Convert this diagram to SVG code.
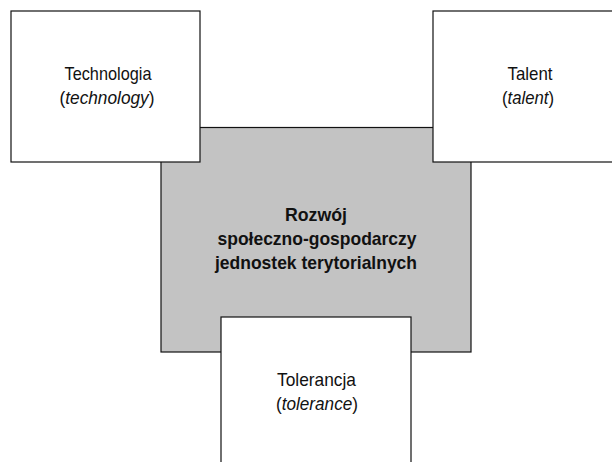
<svg xmlns="http://www.w3.org/2000/svg" width="612" height="462" viewBox="0 0 612 462">
<style>
.box{fill:#ffffff;stroke:#111111;stroke-width:1.2}
.core{fill:#c3c3c3;stroke:#111111;stroke-width:1.2}
.t{font-family:"Liberation Sans",Arial,sans-serif;font-size:19px;fill:#111111;text-anchor:middle}
.b{font-weight:bold}
.i{font-style:italic}
</style>
<rect width="612" height="462" fill="#ffffff"/>
<g id="rozwoj">
<rect class="core" x="161" y="127.5" width="310" height="224.5"/>
<text class="t b" x="316" y="221" textLength="62" lengthAdjust="spacingAndGlyphs">Rozwój</text>
<text class="t b" x="317" y="245" textLength="199" lengthAdjust="spacingAndGlyphs">społeczno-gospodarczy</text>
<text class="t b" x="316" y="269" textLength="202" lengthAdjust="spacingAndGlyphs">jednostek terytorialnych</text>
</g>
<g id="technologia">
<rect class="box" x="11" y="11" width="189" height="151"/>
<text class="t" x="108" y="80" textLength="87" lengthAdjust="spacingAndGlyphs">Technologia</text>
<text class="t" x="107" y="104" textLength="95" lengthAdjust="spacingAndGlyphs">(<tspan class="i">technology</tspan>)</text>
</g>
<g id="talent">
<rect class="box" x="433" y="11" width="190" height="151"/>
<text class="t" x="530" y="80" textLength="45" lengthAdjust="spacingAndGlyphs">Talent</text>
<text class="t" x="528" y="104" textLength="52" lengthAdjust="spacingAndGlyphs">(<tspan class="i">talent</tspan>)</text>
</g>
<g id="tolerancja">
<rect class="box" x="221" y="317" width="190" height="160"/>
<text class="t" x="316.5" y="386" textLength="79" lengthAdjust="spacingAndGlyphs">Tolerancja</text>
<text class="t" x="317" y="410" textLength="82" lengthAdjust="spacingAndGlyphs">(<tspan class="i">tolerance</tspan>)</text>
</g>
</svg>
